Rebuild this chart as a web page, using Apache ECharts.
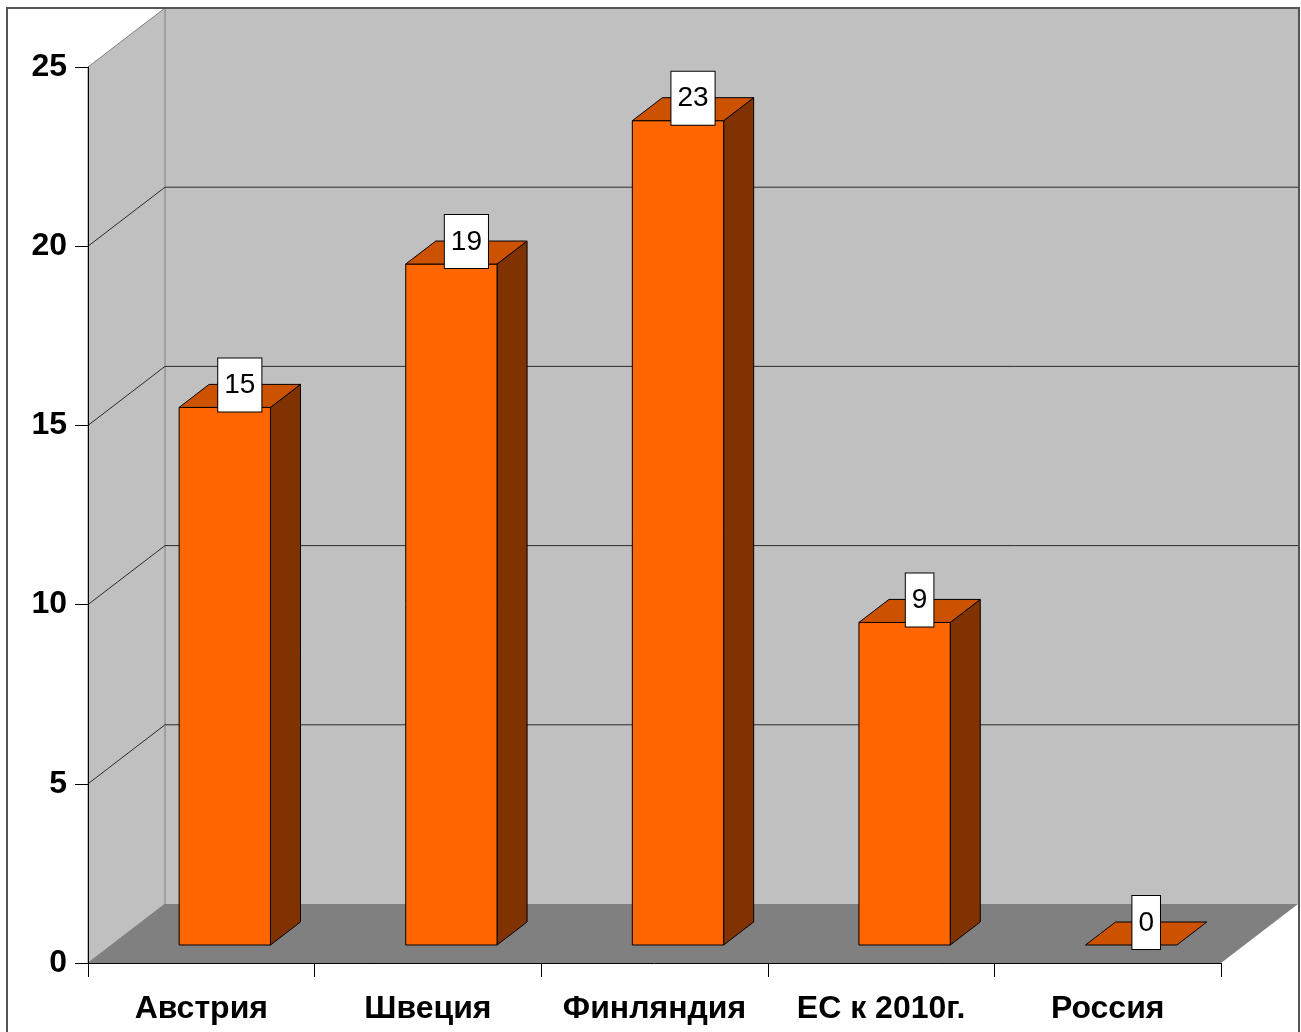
<!DOCTYPE html>
<html>
<head>
<meta charset="utf-8">
<script src="https://cdn.jsdelivr.net/npm/echarts@6/dist/echarts.min.js"></script>
<style>
  html,body{margin:0;padding:0;background:#fff;}
  #chart{width:1301px;height:1032px;}
</style>
</head>
<body>
<div id="chart"></div>
<script>
var categories = ['Австрия', 'Швеция', 'Финляндия', 'ЕС к 2010г.', 'Россия'];
var values = [15, 19, 23, 9, 0];
var yTicks = [0, 5, 10, 15, 20, 25];

// 3d look (pixels / fractions of the depth)
var DX = 77, DY = -59;
var BAR_Z0 = 0.305, BAR_Z1 = 0.695;
var BAR_W = 0.403;
var FONT = '"Liberation Sans", Arial, sans-serif';

var myChart = echarts.init(document.getElementById('chart'));

function wallItem(params, api) {
  var cs = params.coordSys;
  var x0 = cs.x, x1 = cs.x + cs.width;
  var yb = api.coord([0, yTicks[0]])[1];
  var yt = api.coord([0, yTicks[yTicks.length - 1]])[1];
  var kids = [];
  // back wall
  kids.push({type: 'polygon', shape: {points: [[x0 + DX, yt + DY], [x1 + DX, yt + DY], [x1 + DX, yb + DY], [x0 + DX, yb + DY]]},
    style: {fill: '#c0c0c0'}});
  // left wall
  kids.push({type: 'polygon', shape: {points: [[x0, yb], [x0, yt], [x0 + DX, yt + DY], [x0 + DX, yb + DY]]},
    style: {fill: '#c0c0c0', stroke: '#808080', lineWidth: 1}});
  // floor
  kids.push({type: 'polygon', shape: {points: [[x0, yb], [x1, yb], [x1 + DX, yb + DY], [x0 + DX, yb + DY]]},
    style: {fill: '#808080'}});
  // grid lines on the walls
  yTicks.forEach(function (v) {
    if (v === 0 || v === yTicks[yTicks.length - 1]) return;
    var y = api.coord([0, v])[1];
    kids.push({type: 'polyline', shape: {points: [[x0, y], [x0 + DX, y + DY], [x1 + DX, y + DY]]},
      style: {stroke: '#2a2a2a', lineWidth: 1, fill: null}});
  });
  return {type: 'group', children: kids};
}

function barItem(params, api) {
  var idx = api.value(0), val = api.value(1);
  var base = api.coord([idx, 0]);
  var top = api.coord([idx, val]);
  var w = api.size([1, 0])[0] * BAR_W;
  var fx = base[0] - w / 2 + DX * BAR_Z0;
  var fy0 = base[1] + DY * BAR_Z0;
  var fy1 = top[1] + DY * BAR_Z0;
  var ddx = DX * (BAR_Z1 - BAR_Z0), ddy = DY * (BAR_Z1 - BAR_Z0);
  var edge = {stroke: '#000', lineWidth: 1};
  var kids = [];
  if (val > 0) {
    kids.push({type: 'polygon', shape: {points: [[fx + w, fy1], [fx + w + ddx, fy1 + ddy], [fx + w + ddx, fy0 + ddy], [fx + w, fy0]]},
      style: Object.assign({fill: '#803300'}, edge)});
    kids.push({type: 'rect', shape: {x: fx, y: fy1, width: w, height: fy0 - fy1},
      style: Object.assign({fill: '#ff6600'}, edge)});
  }
  kids.push({type: 'polygon', shape: {points: [[fx, fy1], [fx + w, fy1], [fx + w + ddx, fy1 + ddy], [fx + ddx, fy1 + ddy]]},
    style: Object.assign({fill: '#cc5200'}, edge)});
  kids.push({type: 'text', z2: 10, style: {
    x: fx + w / 2 + ddx / 2, y: fy1 + 4,
    text: String(val), align: 'center', verticalAlign: 'bottom',
    fill: '#000', font: 'normal 28px ' + FONT,
    backgroundColor: '#fff', borderColor: '#000', borderWidth: 1, padding: [13, 6, 12, 6]
  }});
  return {type: 'group', children: kids};
}

var option = {
  animation: false,
  backgroundColor: '#fff',
  grid: {left: 88, right: 80, top: 67, bottom: 69, containLabel: false},
  xAxis: {
    type: 'category', data: categories, z: 10,
    axisLine: {show: true, lineStyle: {color: '#000', width: 1}},
    axisTick: {show: true, length: 14, lineStyle: {color: '#000'}},
    axisLabel: {color: '#000', fontSize: 32, fontWeight: 'bold', fontFamily: FONT, margin: 30, interval: 0},
    splitLine: {show: false}
  },
  yAxis: {
    type: 'value', min: 0, max: 25, interval: 5, z: 10,
    axisLine: {show: true, lineStyle: {color: '#000', width: 1}},
    axisTick: {show: true, length: 13, lineStyle: {color: '#000'}},
    axisLabel: {color: '#000', fontSize: 32, fontWeight: 'bold', fontFamily: FONT, margin: 21, padding: [6, 0, 0, 0]},
    splitLine: {show: false}
  },
  graphic: [{
    type: 'rect', z: 100, silent: true,
    shape: {x: 7, y: 8, width: 1292, height: 1040},
    style: {fill: null, stroke: '#555', lineWidth: 2}
  }],
  series: [
    {type: 'custom', z: 1, renderItem: wallItem, data: [[0, 0]], silent: true},
    {type: 'custom', z: 3, renderItem: barItem, data: values.map(function (v, i) { return [i, v]; })}
  ]
};
myChart.setOption(option);
</script>
</body>
</html>
